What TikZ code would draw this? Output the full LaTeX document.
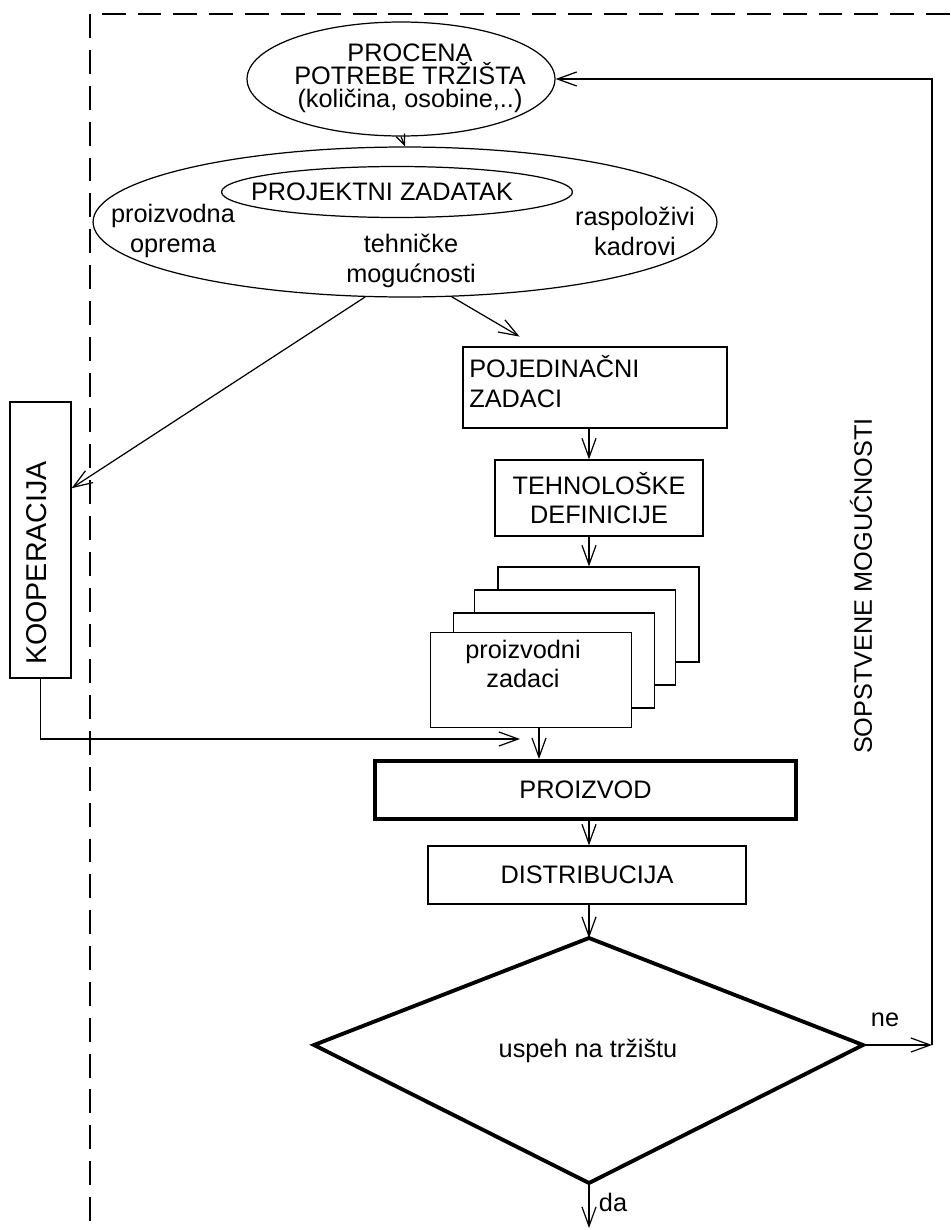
\documentclass[tikz,border=0pt]{standalone}
\usepackage{fontspec}
\setmainfont{Liberation Sans}
\usetikzlibrary{arrows.meta,shapes.geometric}

\begin{document}
\begin{tikzpicture}[x=0.02cm,y=-0.02cm,
	every node/.style={font=\fontsize{14.4}{17}\selectfont, inner sep=0pt},
	thin line/.style={line width=0.7pt},
	box/.style={draw, thin line, fill=white},
	oval/.style={draw, thin line, ellipse},
	arr/.style={thin line, -{Straight Barb[length=11pt,width=8pt]}},
	frame/.style={line width=0.8pt, dash pattern=on 13.6pt off 6.8pt}]
	\useasboundingbox (0,0) rectangle (950,1230);

	\draw[frame] (950,14) -- (90,14) -- (90,1230);

	% ellipses
	\node[oval, minimum width=6.16cm, minimum height=2.28cm] (procena) at (401,79) {};
	\node[align=center, font=\fontsize{14.4}{13}\selectfont] (procenatxt) at (410,78) {PROCENA\\POTREBE TRŽIŠTA\\(količina, osobine,..)};
	\node[oval, minimum width=12.48cm, minimum height=3cm] (projekt) at (405,222) {};
	\node[oval, minimum width=7.02cm, minimum height=1.02cm] (zadatak) at (397,192) {};
	\node (zadataktxt) at (382,192) {PROJEKTNI ZADATAK};
	\node[align=center] (oprema) at (173,231) {proizvodna\\oprema};
	\node[align=center] (tehnicke) at (411,261) {tehničke\\mogućnosti};
	\node[align=center] (kadrovi) at (635,231) {raspoloživi\\kadrovi};

	% boxes
	\node[box, minimum width=5.28cm, minimum height=1.62cm] (pojed) at (595,387.5) {};
	\node[align=left, anchor=west] (pojedtxt) at (469,381.5) {POJEDINAČNI\\ZADACI};
	\node[box, align=center, minimum width=4.16cm, minimum height=1.52cm] (tehno) at (599,498) {TEHNOLOŠKE\\DEFINICIJE};

	\node[box, minimum width=4.02cm, minimum height=1.9cm] (zad4) at (598.5,614.5) {};
	\node[box, minimum width=4.02cm, minimum height=1.9cm] (zad3) at (575,637.5) {};
	\node[box, minimum width=4.02cm, minimum height=1.9cm] (zad2) at (554,660.5) {};
	\node[box, minimum width=4.02cm, minimum height=1.9cm] (zad1) at (531,680) {};
	\node[align=center] (zad1txt) at (523,664) {proizvodni\\zadaci};

	\node[box, minimum width=1.22cm, minimum height=5.52cm] (koop) at (40.5,540) {};
	\node[rotate=90, font=\fontsize{16.3}{18}\selectfont] (kooptxt) at (37,563) {KOOPERACIJA};

	\node[box, line width=2.2pt, minimum width=8.42cm, minimum height=1.16cm] (proizvod) at (585.5,790) {PROIZVOD};
	\node[box, minimum width=6.36cm, minimum height=1.16cm] (distrib) at (587,875) {DISTRIBUCIJA};

	% decision
	\coordinate (dtop) at (589,938);
	\coordinate (dright) at (863,1045);
	\coordinate (dbot) at (589,1183);
	\coordinate (dleft) at (314,1045);
	\draw[line width=2.2pt, line join=miter] (dtop) -- (dright) -- (dbot) -- (dleft) -- cycle;
	\node (uspeh) at (588,1051) {uspeh na tržištu};

	\node[rotate=90] (sopstvene) at (861,586) {SOPSTVENE MOGUĆNOSTI};

	% connectors
	\coordinate (ax) at (589,0);
	\coordinate (ax2) at (539,0);
	\coordinate (kin) at (520,739);
	\coordinate (ret) at (932,1045);
	\coordinate (daend) at (589,1228);

	\draw[thin line, -{Straight Barb[length=6pt,width=5pt]}] (procena.south) -- (projekt.north);
	\draw[arr] (projekt.242) -- (koop.59);
	\draw[arr, shorten >=11pt] (projekt.302) -- (pojed.145);
	\draw[arr] (pojed.south -| ax) -- (tehno.north -| ax);
	\draw[arr] (tehno.south -| ax) -- (zad4.north -| ax);
	\draw[arr] (zad1.south -| ax2) -- (proizvod.north -| ax2);
	\draw[arr] (koop.south) |- (kin);
	\draw[arr] (proizvod.south -| ax) -- (distrib.north -| ax);
	\draw[arr] (distrib.south -| ax) -- (dtop);
	\draw[arr] (dright) -- (ret);
	\draw[arr] (ret) |- (procena.east);
	\draw[arr] (dbot) -- (daend);

	\node (ne) at (885,1020) {ne};
	\node (da) at (613,1202) {da};
\end{tikzpicture}
\end{document}
